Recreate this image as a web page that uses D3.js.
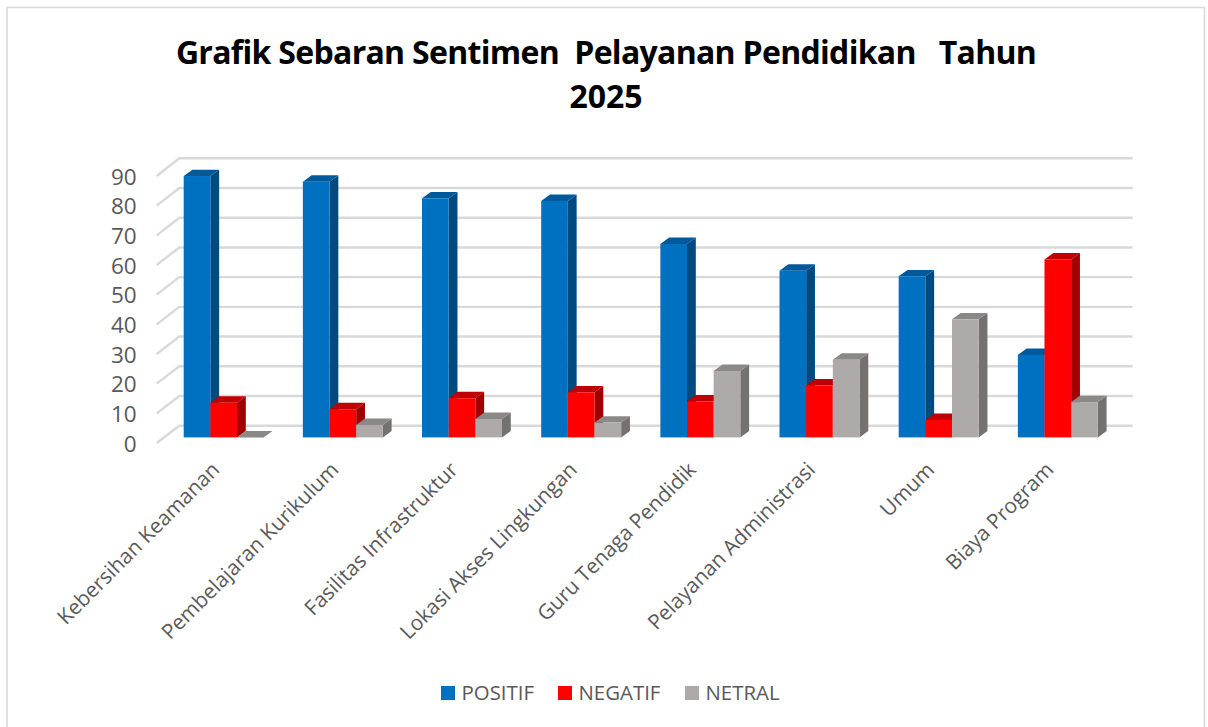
<!DOCTYPE html>
<html>
<head>
<meta charset="utf-8">
<script src="https://cdn.jsdelivr.net/npm/d3@7"></script>
<style>
  html, body { margin: 0; padding: 0; background: #fff; }
  svg { display: block; font-family: 'Open Sans', sans-serif; }
  text { white-space: pre; }
</style>
</head>
<body>
<div id="chart-area"></div>
<script>
/* DATA */
const categories = [
  'Kebersihan Keamanan', 'Pembelajaran Kurikulum', 'Fasilitas Infrastruktur',
  'Lokasi Akses Lingkungan', 'Guru Tenaga Pendidik', 'Pelayanan Administrasi',
  'Umum', 'Biaya Program'
];
const seriesNames = ['POSITIF', 'NEGATIF', 'NETRAL'];
const positif = [88.1, 86.2, 80.6, 79.7, 65.2, 56.2, 54.3, 27.8];
const negatif = [11.7, 9.5, 13.2, 15.2, 12.1, 17.5, 5.9, 60];
const netral = [0, 4.2, 6.2, 5, 22.4, 26.2, 39.8, 11.9];
const yTicks = [0, 10, 20, 30, 40, 50, 60, 70, 80, 90];
const titleLines = ['Grafik Sebaran Sentimen  Pelayanan Pendidikan   Tahun', '2025'];

const width = 1208;
const height = 727;

// face colours per series: front, top, side
const faces = {
  POSITIF: ['#0070c0', '#00599a', '#004a80'],
  NEGATIF: ['#ff0000', '#c00000', '#a00000'],
  NETRAL: ['#aeaaaa', '#8b8888', '#747171']
};

const svg = d3
  .select('#chart-area')
  .append('svg')
  .attr('width', width)
  .attr('height', height)
  .attr('viewBox', `0 0 ${width} ${height}`);

// outer frame, bottom edge runs off the picture
svg.append('path')
  .attr('d', 'M7,730V7.5H1204.5V730')
  .attr('fill', 'none')
  .attr('stroke', '#d9d9d9')
  .attr('stroke-width', 1.6);

/* SCALES */
// three parallel value scales for the pseudo 3d box: front edge, bar plane, back wall
const yFront = d3.scaleLinear().domain([0, 90]).range([443, 176]);
const yBar = d3.scaleLinear().domain([0, 90]).range([437.4, 170.4]);
const yBack = d3.scaleLinear().domain([0, 90]).range([425.7, 158.3]);

const wallDx = 22.6;
const barDx = 8.8;
const barDy = 6.4;
const plotLeft = 156.7;
const plotRight = 1110;

const x0 = d3.scaleBand().domain(categories)
  .range([plotLeft + 7.4, plotRight + 7.4])
  .paddingInner(0.329)
  .paddingOuter(0.1645);
const x1 = d3.scaleBand().domain(seriesNames).range([0, x0.bandwidth()]);

/* GRID */
const grid = svg.append('g')
  .attr('fill', 'none')
  .attr('stroke', '#d9d9d9')
  .attr('stroke-width', 2.4);
grid.selectAll('path')
  .data(yTicks)
  .enter()
  .append('path')
  .attr('d', (d) => `M${plotLeft},${yFront(d)}L${plotLeft + wallDx},${yBack(d)}H${plotRight + wallDx}`);

/* AXES */
const yAxis = svg.append('g')
  .attr('transform', `translate(${plotLeft - 12}, 1)`)
  .call(d3.axisLeft(yFront).tickValues(yTicks).tickSize(0).tickPadding(8));
yAxis.select('.domain').remove();
yAxis.selectAll('text')
  .attr('fill', '#595959')
  .style('font-family', "'Open Sans', sans-serif")
  .style('font-size', '22.5px');

svg.append('g').selectAll('text')
  .data(categories)
  .enter()
  .append('text')
  .attr('transform', (d) => `translate(${x0(d) + x0.bandwidth() / 2 - 3}, 471) rotate(-45)`)
  .attr('text-anchor', 'end')
  .attr('fill', '#595959')
  .style('font-size', '20.8px')
  .text((d) => d);

/* BARS */
const rows = categories.map((c, i) => ({
  category: c,
  bars: [
    { name: 'POSITIF', value: positif[i] },
    { name: 'NEGATIF', value: negatif[i] },
    { name: 'NETRAL', value: netral[i] }
  ]
}));

const group = svg.append('g').selectAll('g')
  .data(rows)
  .enter()
  .append('g')
  .attr('transform', (d) => `translate(${x0(d.category)}, 0)`);

const bar = group.selectAll('g')
  .data((d) => d.bars)
  .enter()
  .append('g');

// side face
bar.append('path')
  .attr('fill', (d) => faces[d.name][2])
  .attr('d', (d) => {
    const r = x1(d.name) + x1.bandwidth();
    return `M${r},${yBar(d.value)}l${barDx},${-barDy}L${r + barDx},${yBar(0) - barDy}L${r},${yBar(0)}Z`;
  });
// top face
bar.append('path')
  .attr('fill', (d) => faces[d.name][1])
  .attr('d', (d) => {
    const l = x1(d.name);
    return `M${l},${yBar(d.value)}l${barDx},${-barDy}h${x1.bandwidth()}l${-barDx},${barDy}Z`;
  });
// front face
bar.append('rect')
  .attr('x', (d) => x1(d.name))
  .attr('y', (d) => yBar(d.value))
  .attr('width', x1.bandwidth())
  .attr('height', (d) => yBar(0) - yBar(d.value))
  .attr('fill', (d) => faces[d.name][0]);

/* TITLE */
svg.append('g').selectAll('text')
  .data(titleLines)
  .enter()
  .append('text')
  .attr('x', 606)
  .attr('y', (d, i) => 64 + i * 44)
  .attr('text-anchor', 'middle')
  .attr('fill', '#000')
  .style('font-size', '32px')
  .style('font-weight', 700)
  .style('letter-spacing', (d, i) => (i === 0 ? '-0.7px' : '0'))
  .text((d) => d);

/* LEGEND */
const legendX = d3.scaleOrdinal().domain(seriesNames).range([441, 558, 685]);
const legend = svg.append('g').selectAll('g')
  .data(seriesNames)
  .enter()
  .append('g')
  .attr('transform', (d) => `translate(${legendX(d)}, 686)`);
legend.append('rect')
  .attr('width', 14)
  .attr('height', 14)
  .attr('fill', (d) => faces[d][0]);
legend.append('text')
  .attr('x', 20.5)
  .attr('y', 14)
  .attr('fill', '#595959')
  .style('font-size', '20.4px')
  .text((d) => d);
</script>
</body>
</html>
